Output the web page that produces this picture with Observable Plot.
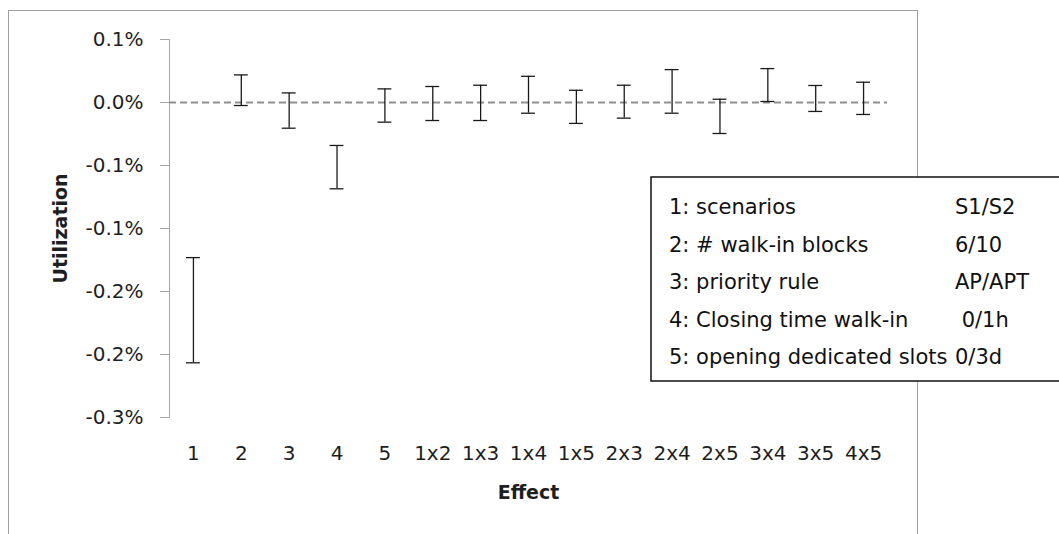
<!DOCTYPE html>
<html>
<head>
<meta charset="utf-8">
<script src="https://cdn.jsdelivr.net/npm/d3@7"></script>
<script src="https://cdn.jsdelivr.net/npm/@observablehq/plot@0.6"></script>
<style>
  html, body { margin: 0; padding: 0; background: #fff; }
  #chart svg { display: block; }
</style>
</head>
<body>
<div id="chart"></div>
<script>
// Effects on utilization: confidence interval of each main and interaction effect
const effects = ["1", "2", "3", "4", "5", "1x2", "1x3", "1x4", "1x5", "2x3", "2x4", "2x5", "3x4", "3x5", "4x5"];
const lower = [-0.002066, -0.000024, -0.000204, -0.000685, -0.000156, -0.000143, -0.000143, -0.000085, -0.000166, -0.000124, -0.000085, -0.000246, 0.000008, -0.000071, -0.000095];
const upper = [-0.001231, 0.000219, 0.000076, -0.000341, 0.000108, 0.000127, 0.000137, 0.000208, 0.000097, 0.000137, 0.000261, 0.000026, 0.000269, 0.000135, 0.000161];

// Y ticks and their (rounded) labels
const yTicks = [0.0005, 0, -0.0005, -0.001, -0.0015, -0.002, -0.0025];
const yTickLabels = ["0.1%", "0.0%", "-0.1%", "-0.1%", "-0.2%", "-0.2%", "-0.3%"];

// Factor key shown in the box
const legendFactors = ["1: scenarios", "2: # walk-in blocks", "3: priority rule", "4: Closing time walk-in", "5: opening dedicated slots"];
const legendLevels = ["S1/S2", "6/10", "AP/APT", " 0/1h", "0/3d"];

const bars = effects.map((e, i) => ({effect: e, lo: lower[i], hi: upper[i]}));

const ink = "#1e1e1e";
const barInk = "#1a1a1a";

const chart = Plot.plot({
  width: 1059,
  height: 534,
  marginLeft: 169,
  marginRight: 172,
  marginTop: 39,
  marginBottom: 117,
  style: {fontFamily: "'DejaVu Sans', sans-serif", fontSize: "20px", background: "#fff", overflow: "visible"},
  x: {type: "band", domain: effects, padding: 0, round: false, axis: null},
  y: {domain: [-0.0025, 0.0005], axis: null},
  marks: [
    Plot.frame({anchor: "left", stroke: "#a6a6a6", strokeOpacity: 1}),
    Plot.axisY({
      ticks: yTicks,
      tickFormat: d => yTickLabels[yTicks.indexOf(d)],
      tickSize: 9,
      tickPadding: 17,
      stroke: "#a6a6a6",
      strokeOpacity: 1,
      fill: ink,
      fontSize: 20,
      label: null
    }),
    Plot.axisX({tickSize: 0, tickPadding: 28, fill: ink, fontSize: 20, label: null}),
    Plot.ruleY([0], {stroke: "#8f8f8f", strokeWidth: 2, strokeDasharray: "7,4"}),
    Plot.ruleX(bars, {x: "effect", y1: "lo", y2: "hi", stroke: barInk, strokeWidth: 1.3}),
    Plot.tickY(bars, {x: "effect", y: "lo", insetLeft: 17, insetRight: 17, stroke: barInk, strokeWidth: 1.3}),
    Plot.tickY(bars, {x: "effect", y: "hi", insetLeft: 17, insetRight: 17, stroke: barInk, strokeWidth: 1.3}),
    Plot.text(["Effect"], {frameAnchor: "bottom", lineAnchor: "middle", dy: 75, text: d => d, fontWeight: "bold", fontSize: 19, fill: ink}),
    Plot.text(["Utilization"], {frameAnchor: "left", textAnchor: "middle", lineAnchor: "middle", dx: -109, rotate: -90, text: d => d, fontWeight: "bold", fontSize: 19, fill: ink})
  ]
});

const svg = d3.select(chart);

// Chart area border
svg.insert("rect", ":first-child")
  .attr("x", 8.5).attr("y", 10.5)
  .attr("width", 909).attr("height", 540)
  .attr("fill", "none").attr("stroke", "#a0a0a0").attr("stroke-width", 1);

// Factor key box
const key = svg.append("g");
key.append("rect")
  .attr("x", 651).attr("y", 177)
  .attr("width", 420).attr("height", 204)
  .attr("fill", "#fff").attr("stroke", "#111").attr("stroke-width", 1.5);
const rows = key.selectAll("g.row").data(legendFactors).join("g")
  .attr("transform", (d, i) => `translate(0,${214 + i * 37.6})`)
  .attr("font-family", "'DejaVu Sans', sans-serif")
  .attr("font-size", 21)
  .attr("text-anchor", "start")
  .attr("fill", "#111")
  .style("white-space", "pre");
rows.append("text").attr("x", 669).text(d => d);
rows.append("text").attr("x", 955).text((d, i) => legendLevels[i]);

document.getElementById("chart").append(chart);
</script>
</body>
</html>
